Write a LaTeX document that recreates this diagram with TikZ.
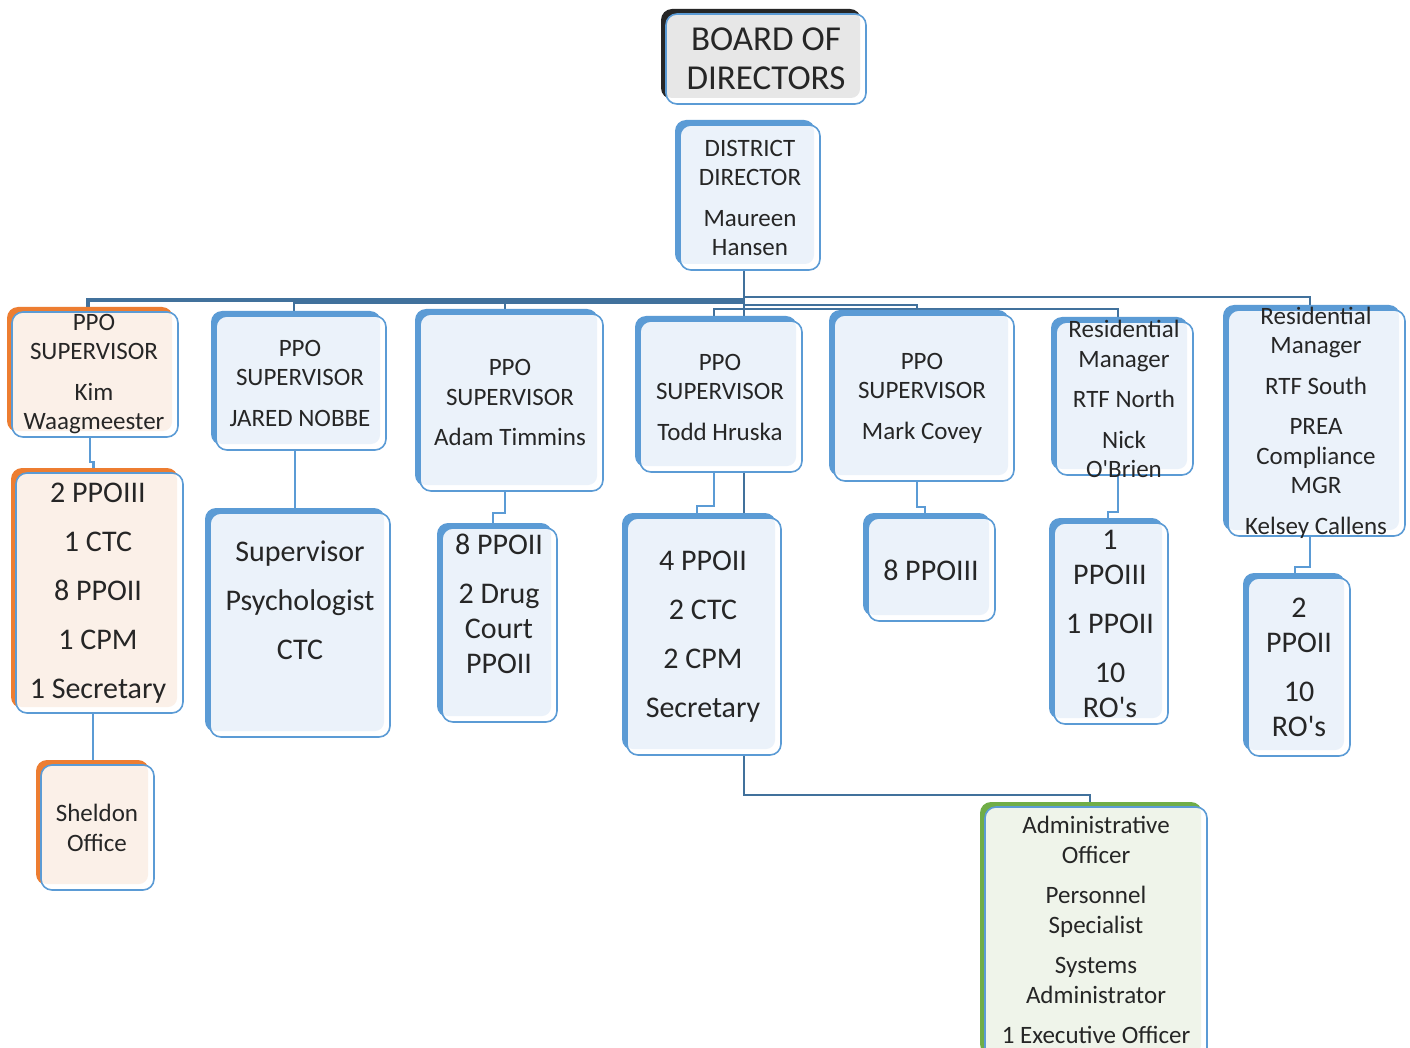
\documentclass[tikz,border=0pt]{standalone}
\usepackage{fontspec}
\setmainfont{Carlito}
\usetikzlibrary{shadows,calc}
\pgfdeclarelayer{background}
\pgfsetlayers{background,main}
\definecolor{bord}{HTML}{5B9BD5}
\definecolor{busc}{HTML}{41719C}
\definecolor{fillb}{HTML}{EBF2FA}
\definecolor{orng}{HTML}{ED7D31}
\definecolor{fillo}{HTML}{FBF0E8}
\definecolor{grn}{HTML}{70AD47}
\definecolor{fillg}{HTML}{EFF4EA}
\definecolor{fillgr}{HTML}{E7E7E7}
\definecolor{shblack}{HTML}{262626}
\definecolor{txt}{HTML}{262626}
\tikzset{
  card/.style 2 args={draw=bord, line width=1.6pt, rounded corners=11pt, fill=white, inner sep=0pt,
    general shadow={fill=#1, shadow xshift=-5pt, shadow yshift=5pt},
    path picture={\fill[#2, rounded corners=9pt] ([xshift=-3pt,yshift=3pt]path picture bounding box.north west) rectangle ([xshift=-6pt,yshift=6pt]path picture bounding box.south east);}},
  bluecard/.style={card={bord}{fillb}},
  orangecard/.style={card={orng}{fillo}},
  greencard/.style={card={grn}{fillg}},
  blackcard/.style={card={shblack}{fillgr}},
  small/.style={font=\fontsize{25}{29.5}\selectfont, text=txt, align=center, inner sep=0pt},
  big/.style={font=\fontsize{30}{35}\selectfont, text=txt, align=center, inner sep=0pt},
  huge/.style={font=\fontsize{35}{39.5}\selectfont, text=txt, align=center, inner sep=0pt},
  bus/.style={draw=busc, line width=2.5pt},
  busthick/.style={draw=busc, line width=4pt},
  link/.style={draw=bord, line width=2.6pt},
}
\begin{document}
\begin{tikzpicture}[x=1pt,y=-1pt]
\useasboundingbox (0,0) rectangle (1410,1048);
\clip (0,0) rectangle (1410,1048);

% boxes
\node[blackcard, minimum width=200pt, minimum height=90pt] (board) at (766,59) {};
\node[bluecard, minimum width=140pt, minimum height=145pt] (dd) at (750,197.5) {};
\node[orangecard, minimum width=166pt, minimum height=125pt] (kim) at (95,374.5) {};
\node[bluecard, minimum width=170pt, minimum height=134pt] (jared) at (301,383) {};
\node[bluecard, minimum width=183pt, minimum height=177pt] (adam) at (511.5,402.5) {};
\node[bluecard, minimum width=162pt, minimum height=151pt] (todd) at (721,396.5) {};
\node[bluecard, minimum width=180pt, minimum height=166pt] (mark) at (924,398) {};
\node[bluecard, minimum width=137pt, minimum height=153pt] (nick) at (1124.5,398.5) {};
\node[bluecard, minimum width=177pt, minimum height=226pt] (kelsey) at (1316.5,423) {};
\node[orangecard, minimum width=167pt, minimum height=240pt] (kimsub) at (99.5,593) {};
\node[bluecard, minimum width=180pt, minimum height=224pt] (jaredsub) at (300,625) {};
\node[bluecard, minimum width=115pt, minimum height=194pt] (adamsub) at (499.5,625) {};
\node[bluecard, minimum width=154pt, minimum height=237pt] (toddsub) at (704,636.5) {};
\node[bluecard, minimum width=127pt, minimum height=103pt] (marksub) at (931.5,569.5) {};
\node[bluecard, minimum width=114pt, minimum height=201pt] (nicksub) at (1111,623.5) {};
\node[bluecard, minimum width=102pt, minimum height=178pt] (kelseysub) at (1299,667) {};
\node[orangecard, minimum width=113pt, minimum height=125pt] (sheldon) at (97.5,827.5) {};
\node[greencard, minimum width=222pt, minimum height=253pt] (admin) at (1096,933.5) {};

% texts
\node[huge] (boardt) at (766,59) {BOARD OF\\DIRECTORS};
\node[small] (ddt) at (750,198) {DISTRICT\\DIRECTOR\\[11pt]Maureen\\Hansen};
\node[small] (kimt) at (94,374) {PPO\\SUPERVISOR\\[11pt]Kim\\Waagmeester};
\node[small] (jaredt) at (300,383) {PPO\\SUPERVISOR\\[11pt]JARED NOBBE};
\node[small] (adamt) at (510,402.5) {PPO\\SUPERVISOR\\[11pt]Adam Timmins};
\node[small] (toddt) at (720,397) {PPO\\SUPERVISOR\\[11pt]Todd Hruska};
\node[small] (markt) at (922,398) {PPO\\SUPERVISOR\\[11pt]Mark Covey};
\node[small] (nickt) at (1124,399) {Residential\\Manager\\[11pt]RTF North\\[11pt]Nick\\O\textquotesingle Brien};
\node[small] (kelseyt) at (1316,422.5) {Residential\\Manager\\[11pt]RTF South\\[11pt]PREA\\Compliance\\MGR\\[11pt]Kelsey Callens};
\node[big] (kimsubt) at (98,593) {2 PPOIII\\[14pt]1 CTC\\[14pt]8 PPOII\\[14pt]1 CPM\\[14pt]1 Secretary};
\node[big] (jaredsubt) at (300,600) {Supervisor\\[14pt]Psychologist\\[14pt]CTC};
\node[big] (adamsubt) at (499,603.5) {8 PPOII\\[14pt]2 Drug\\Court\\PPOII};
\node[big] (toddsubt) at (703,636.5) {4 PPOII\\[14pt]2 CTC\\[14pt]2 CPM\\[14pt]Secretary};
\node[big] (marksubt) at (931,570) {8 PPOIII};
\node[big] (nicksubt) at (1110,624) {1\\PPOIII\\[14pt]1 PPOII\\[14pt]10\\RO\textquotesingle s};
\node[big] (kelseysubt) at (1299,667) {2\\PPOII\\[14pt]10\\RO\textquotesingle s};
\node[small] (sheldont) at (97,828) {Sheldon\\Office};
\node[small] (admint) at (1096,930) {Administrative\\Officer\\[11pt]Personnel\\Specialist\\[11pt]Systems\\Administrator\\[11pt]1 Executive Officer};

% connectors
\coordinate (trunk) at (744,270);
\begin{pgfonlayer}{background}
\fill[white] (0,0) rectangle (1410,1048);
\draw[bus] (trunk) -- (744,795) -| ([xshift=-6pt]admin.north);
\draw[bus] (744,297) -| ([xshift=-6.5pt]kelsey.north);
\draw[busthick] (744,300) -| ([xshift=-7pt]kim.north);
\draw[bus] (744,303) -| ([xshift=-7pt]jared.north);
\draw[bus] (505,303) -- ([xshift=-6.5pt]adam.north);
\draw[bus] (744,305) -| ([xshift=-7pt]mark.north);
\draw[bus] (744,309) -| ([xshift=-7pt]todd.north);
\draw[bus] (744,309) -| ([xshift=-6.5pt]nick.north);
\draw[link] ([xshift=-5pt]kim.south) -- (90,462) -| ([xshift=-6pt]kimsub.north);
\draw[link] ([xshift=-6.5pt]kimsub.south) -- ([xshift=-6.5pt]kimsub.south |- sheldon.north);
\draw[link] ([xshift=-6pt]jared.south) -- ([xshift=-6pt]jared.south |- jaredsub.north);
\draw[link] ([xshift=-6.5pt]adam.south) -- (505,513) -| ([xshift=-6.5pt]adamsub.north);
\draw[link] ([xshift=-7pt]todd.south) -- (714,506) -| ([xshift=-7pt]toddsub.north);
\draw[link] ([xshift=-7pt]mark.south) -- (917,507) -| ([xshift=-6.5pt]marksub.north);
\draw[link] ([xshift=-6.5pt]nick.south) -- (1118,512) -| ([xshift=-3pt]nicksub.north);
\draw[link] ([xshift=-6.5pt]kelsey.south) -- (1310,567) -| ([xshift=-4pt]kelseysub.north);
\end{pgfonlayer}
\end{tikzpicture}
\end{document}
